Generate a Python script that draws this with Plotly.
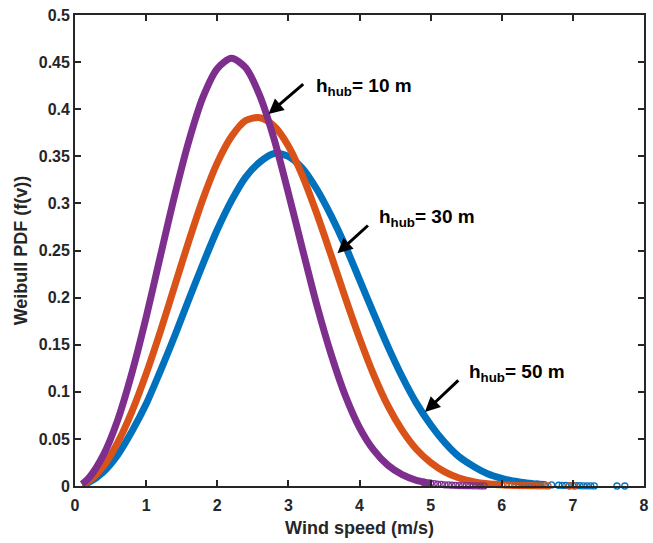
import plotly.graph_objects as go

# ---------------- data ----------------
# h_hub = 50 m (blue)
v_50 = [0.1, 0.2, 0.4, 0.6, 0.8, 1.0, 1.2, 1.4, 1.6, 1.8, 2.0, 2.2, 2.4, 2.6, 2.8,
        3.0, 3.2, 3.4, 3.6, 3.8, 4.0, 4.2, 4.4, 4.6, 4.8, 5.0, 5.2, 5.4, 5.6, 5.8,
        6.0, 6.2, 6.4, 6.6]
f_50 = [0.0011, 0.004, 0.015, 0.033, 0.058, 0.087, 0.122, 0.159, 0.198, 0.236,
        0.272, 0.303, 0.328, 0.344, 0.353, 0.350, 0.337, 0.315, 0.287, 0.255,
        0.219, 0.183, 0.148, 0.116, 0.088, 0.065, 0.046, 0.031, 0.021, 0.013,
        0.0081, 0.0048, 0.0027, 0.0015]
v_50_tail = [6.2, 6.3, 6.4, 6.5, 6.6, 6.7, 6.8, 6.85, 6.9, 6.95, 7.0, 7.05, 7.1,
             7.15, 7.2, 7.25, 7.3, 7.62, 7.73]
f_50_tail = [0.0048, 0.0036, 0.0027, 0.002, 0.0015, 0.0011, 0.0008, 0.0007, 0.0006,
             0.0005, 0.0004, 0.0003, 0.0003, 0.0002, 0.0002, 0.0002, 0.0001, 0.0, 0.0]

# h_hub = 30 m (orange)
v_30 = [0.1, 0.2, 0.4, 0.6, 0.8, 1.0, 1.2, 1.4, 1.6, 1.8, 2.0, 2.2, 2.4, 2.6, 2.8,
        3.0, 3.2, 3.4, 3.6, 3.8, 4.0, 4.2, 4.4, 4.6, 4.8, 5.0, 5.2, 5.4, 5.6, 5.8, 6.0]
f_30 = [0.0015, 0.0056, 0.021, 0.046, 0.079, 0.119, 0.164, 0.212, 0.260, 0.305,
        0.343, 0.371, 0.388, 0.391, 0.382, 0.361, 0.329, 0.289, 0.245, 0.200,
        0.157, 0.118, 0.085, 0.059, 0.039, 0.025, 0.015, 0.0085, 0.0047, 0.0024, 0.0012]
v_30_tail = [5.9, 5.95, 6.0, 6.05, 6.1, 6.15, 6.2, 6.25, 6.3, 6.35, 6.4, 6.45, 6.5,
             6.55, 6.6, 6.65, 6.95, 7.02]
f_30_tail = [0.0017, 0.0014, 0.0012, 0.001, 0.0009, 0.0007, 0.0006, 0.0005, 0.0004,
             0.0004, 0.0003, 0.0003, 0.0002, 0.0002, 0.0002, 0.0001, 0.0, 0.0]

# h_hub = 10 m (purple)
v_10 = [0.1, 0.2, 0.4, 0.6, 0.8, 1.0, 1.2, 1.4, 1.6, 1.8, 2.0, 2.2, 2.4, 2.6, 2.8,
        3.0, 3.2, 3.4, 3.6, 3.8, 4.0, 4.2, 4.4, 4.6, 4.8, 5.0]
f_10 = [0.002, 0.009, 0.033, 0.070, 0.120, 0.179, 0.244, 0.308, 0.366, 0.413,
        0.443, 0.454, 0.444, 0.414, 0.368, 0.311, 0.251, 0.192, 0.140, 0.096,
        0.062, 0.038, 0.022, 0.012, 0.006, 0.003]
v_10_tail = [4.9, 5.0, 5.05, 5.1, 5.15, 5.2, 5.25, 5.3, 5.35, 5.4, 5.45, 5.5, 5.55,
             5.6, 5.65, 5.7, 5.75]
f_10_tail = [0.004, 0.003, 0.0025, 0.002, 0.0018, 0.0013, 0.0011, 0.0009, 0.0007,
             0.0005, 0.0004, 0.0003, 0.0003, 0.0002, 0.0002, 0.0001, 0.0001]

x_ticks = [0, 1, 2, 3, 4, 5, 6, 7, 8]
y_ticks = [0, 0.05, 0.1, 0.15, 0.2, 0.25, 0.3, 0.35, 0.4, 0.45, 0.5]
y_tick_labels = ["0", "0.05", "0.1", "0.15", "0.2", "0.25", "0.3", "0.35", "0.4", "0.45", "0.5"]

labels = ["h<sub>hub</sub>= 10 m", "h<sub>hub</sub>= 30 m", "h<sub>hub</sub>= 50 m"]
label_pos = [(3.36, 0.424), (4.25, 0.284), (5.51, 0.120)]
arrow_tail = [(3.23, 0.428), (4.14, 0.278), (5.41, 0.1136)]
arrow_head = [(2.72, 0.3949), (3.69, 0.247), (4.92, 0.0786)]

BLUE = "#0072BD"
ORANGE = "#D95319"
PURPLE = "#7E2F8E"
AXC = "#262626"
FONT = "Liberation Sans, Arial, sans-serif"

fig = go.Figure()
for v, f, vt, ft, c in [(v_50, f_50, v_50_tail, f_50_tail, BLUE),
                        (v_30, f_30, v_30_tail, f_30_tail, ORANGE),
                        (v_10, f_10, v_10_tail, f_10_tail, PURPLE)]:
    fig.add_trace(go.Scatter(x=v, y=f, mode="lines",
                             line=dict(color=c, width=7, shape="spline", smoothing=0.8),
                             showlegend=False, hoverinfo="skip"))
    fig.add_trace(go.Scatter(x=vt, y=ft, mode="markers", cliponaxis=False,
                             marker=dict(symbol="circle-open", size=6, color=c,
                                         line=dict(width=1.3, color=c)),
                             showlegend=False, hoverinfo="skip"))

for txt, (tx, ty), (sx, sy), (hx, hy) in zip(labels, label_pos, arrow_tail, arrow_head):
    fig.add_annotation(x=tx, y=ty, text="<b>" + txt + "</b>", showarrow=False,
                       xanchor="left", yanchor="middle",
                       font=dict(family=FONT, size=19, color="black"))
    fig.add_annotation(x=hx, y=hy, ax=sx, ay=sy, axref="x", ayref="y", text="",
                       showarrow=True, arrowhead=2, arrowsize=1.0, arrowwidth=3,
                       arrowcolor="black")

fig.update_layout(
    width=653, height=543,
    margin=dict(l=75, r=4, t=15, b=57),
    paper_bgcolor="white", plot_bgcolor="white",
    font=dict(family=FONT, color=AXC),
)
fig.update_xaxes(range=[0, 8], tickvals=x_ticks, ticks="inside", ticklen=6,
                 tickwidth=1.5, tickcolor=AXC, showline=True, linewidth=1.8,
                 linecolor=AXC, mirror="ticks", showgrid=False, zeroline=False,
                 ticklabelstandoff=4,
                 tickfont=dict(family=FONT, size=16, color=AXC, weight="bold"),
                 title=dict(text="Wind speed (m/s)", standoff=8,
                            font=dict(family=FONT, size=18, color=AXC, weight="bold")))
fig.update_yaxes(range=[0, 0.5], tickvals=y_ticks, ticktext=y_tick_labels,
                 ticks="inside", ticklen=6, tickwidth=1.5, tickcolor=AXC,
                 showline=True, linewidth=1.8, linecolor=AXC, mirror="ticks",
                 showgrid=False, zeroline=False,
                 tickfont=dict(family=FONT, size=16, color=AXC, weight="bold"),
                 title=dict(text="Weibull PDF (f(v))", standoff=6,
                            font=dict(family=FONT, size=18, color=AXC, weight="bold")))

fig.write_html("out.html")
